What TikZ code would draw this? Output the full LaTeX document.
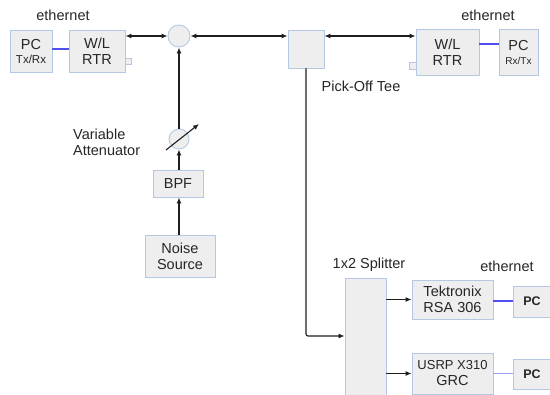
\documentclass[tikz,border=0pt]{standalone}
\usepackage{fontspec}
\setmainfont{Liberation Sans}
\usetikzlibrary{arrows.meta,calc}
\definecolor{boxf}{HTML}{EEEEEE}
\definecolor{boxb}{HTML}{B4C8E4}
\definecolor{arrc}{HTML}{1E1E1E}
\definecolor{eth}{HTML}{4F4FF0}
\definecolor{eth2}{HTML}{9A9AF5}
\tikzset{
  blk/.style={draw=boxb, fill=boxf, line width=0.9pt, inner sep=0pt, align=center,
    font=\fontsize{14.5}{16}\selectfont, text=black!85},
  rnd/.style={circle, draw=boxb, fill=boxf, line width=0.9pt, inner sep=0pt},
  sq/.style={draw=boxb, fill=boxf, line width=0.8pt, inner sep=0pt, minimum size=6.5pt},
  arr/.style={-{Latex[length=6pt,width=5pt]}, line width=1.1pt, draw=arrc},
  darr/.style={{Latex[length=6pt,width=5pt]}-{Latex[length=6pt,width=5pt]}, line width=1.1pt, draw=arrc},
  ethl/.style={draw=eth, line width=1.1pt},
  lbl/.style={inner sep=0pt, font=\fontsize{14.5}{16}\selectfont, text=black!85},
}
\begin{document}
\begin{tikzpicture}[x=1pt,y=-1pt]
\useasboundingbox (0,0) rectangle (550,395);
\clip (0,0) rectangle (550,395);
% top left
\node[blk, minimum width=42pt, minimum height=42pt] (PCL) at (31,51) {PC\\[-2pt]{\fontsize{11.5}{12}\selectfont Tx/Rx}};
\node[blk, minimum width=56pt, minimum height=42pt] (RTRL) at (97,51) {W/L\\RTR};
\node[sq] (sqL) at (128.5,61.5) {};
\node[lbl] (ethL) at (63,15) {ethernet};
\node[rnd, minimum size=22pt] (circ) at (179,36) {};
% pick-off tee
\node[blk, minimum width=36pt, minimum height=38pt] (tee) at (306,49) {};
\node[lbl] (teel) at (361,86) {Pick-Off Tee};
% top right
\node[blk, minimum width=63pt, minimum height=46pt] (RTRR) at (447.5,52) {W/L\\RTR};
\node[sq] (sqR) at (413,66) {};
\node[blk, minimum width=39pt, minimum height=46pt] (PCR) at (518.5,52) {PC\\[-2pt]{\fontsize{10}{11}\selectfont Rx/Tx}};
\node[lbl] (ethR) at (488,15) {ethernet};
% noise chain
\node[rnd, minimum size=20pt] (att) at (179,139) {};
\node[lbl, align=left, anchor=west] (attl) at (73,142) {Variable\\Attenuator};
\node[blk, minimum width=50pt, minimum height=27pt] (bpf) at (178,183.5) {BPF};
\node[blk, minimum width=70pt, minimum height=42pt] (noise) at (180,256) {Noise\\Source};
% splitter and receivers
\node[blk, minimum width=41pt, minimum height=124pt] (split) at (365.5,340) {};
\node[lbl] (splitl) at (369,265) {1x2 Splitter};
\node[blk, minimum width=81pt, minimum height=39pt] (tek) at (452.5,299.5) {Tektronix\\RSA 306};
\node[blk, minimum width=81pt, minimum height=41pt] (usrp) at (452.5,373.5) {{\fontsize{13}{14}\selectfont USRP X310}\\GRC};
\node[blk, minimum width=38pt, minimum height=31pt, font=\fontsize{12.5}{14}\selectfont\bfseries] (pc3) at (532,301.5) {PC};
\node[blk, minimum width=38pt, minimum height=30pt, font=\fontsize{12.5}{14}\selectfont\bfseries] (pc4) at (532,374) {PC};
\node[lbl] (ethB) at (507,266) {ethernet};
% connectors
\draw[ethl] ([yshift=2pt]PCL.east) -- ([yshift=2pt]RTRL.west);
\draw[darr] (RTRL.east |- circ) -- (circ.west);
\draw[darr] (circ.east) -- (tee.west |- circ);
\draw[darr] (tee.east |- circ) -- (RTRR.west |- circ);
\draw[ethl] ([yshift=8pt]RTRR.east) -- ([yshift=8pt]PCR.west);
\draw[arr] (att.north) -- (circ.south);
\draw[arr] ($(att)+(-13,11)$) -- ($(att)+(20,-15)$);
\draw[arr] (bpf.north -| att) -- (att.south);
\draw[arr] (noise.north -| att) -- (bpf.south -| att);
\draw[arr, rounded corners=2pt] (tee.south) |- ([yshift=4pt]split.west);
\draw[arr] (split.east |- tek) -- (tek.west);
\draw[arr] (split.east |- usrp) -- (usrp.west);
\draw[ethl] ([yshift=-1.5pt]tek.east) -- ([yshift=-1.5pt]tek.east -| pc3.west);
\draw[ethl, draw=eth2] (usrp.east) -- (usrp.east -| pc4.west);
\end{tikzpicture}
\end{document}
